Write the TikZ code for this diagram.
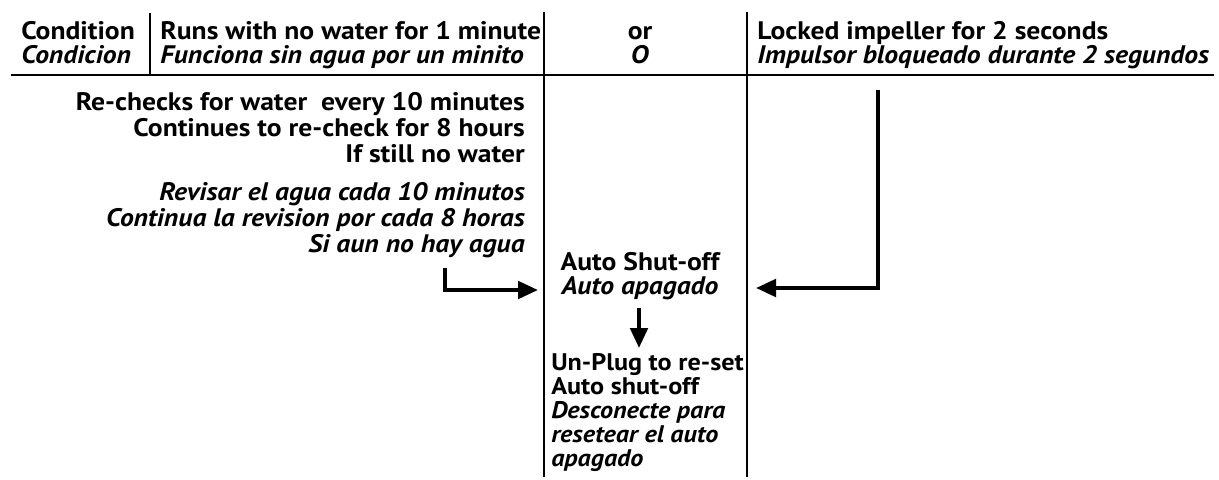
\documentclass[tikz,border=0pt]{standalone}
\usepackage{fontspec}
\setmainfont{PT Sans}[FakeStretch=1.09]
\usetikzlibrary{positioning,arrows.meta}

\begin{document}
\begin{tikzpicture}[x=0.75pt,y=-0.75pt]
	\tikzset{txt/.style={inner sep=0pt, font=\bfseries\fontsize{19}{18}\selectfont},
		flow/.style={line width=3pt, -{Triangle[length=15pt,width=13pt]}},
		rule/.style={line width=1.5pt}}
	\useasboundingbox (0,0) rectangle (1219,479);
	% table rules
	\draw[rule] (11,75) -- (1214,75);
	\draw[rule] (150,13) -- (150,75);
	\draw[rule] (544,12) -- (544,477);
	\draw[rule] (747,12) -- (747,477);
	% header
	\node[txt, anchor=base west, align=left] (cond) at (21,63) {Condition\\ \textit{Condicion}};
	\node[txt, anchor=base west, align=left] (dry) at (160,63) {Runs with no water for 1 minute\\ \textit{Funciona sin agua por un minito}};
	\node[txt, anchor=base, align=center] (or) at (640,63) {or\\ \textit{O}};
	\node[txt, anchor=base west, align=left] (lock) at (757,63) {Locked impeller for 2 seconds\\ \textit{Impulsor bloqueado durante 2 segundos}};
	% left column
	\node[txt, anchor=base east, align=right, font=\bfseries\fontsize{19}{19.5}\selectfont] (recheck) at (525,162)
		{Re-checks for water~ every 10 minutes\\ Continues to re-check for 8 hours\\ If still no water};
	\node[txt, anchor=base east, align=right, font=\bfseries\itshape\fontsize{19}{19.5}\selectfont] (revisar) at (525,252)
		{Revisar el agua cada 10 minutos\\ Continua la revision por cada 8 horas\\ Si aun no hay agua};
	% middle column
	\node[txt, anchor=base, align=center] (shut) at (640,294) {Auto Shut-off\\ \textit{Auto apagado}};
	\node[txt, anchor=base west, align=left, font=\bfseries\fontsize{18}{18}\selectfont] (unplug) at (551,466)
		{Un-Plug to re-set\\ Auto shut-off\\ \textit{Desconecte para}\\ \textit{resetear el auto}\\ \textit{apagado}};
	% arrows
	\coordinate (lbend) at (445,268);
	\coordinate (ltip) at (538,290);
	\coordinate (rtop) at (878,90);
	\coordinate (rtip) at (756,288);
	\coordinate (dtop) at (639,308);
	\coordinate (dtip) at (639,348);
	\draw[flow] (lbend) |- (ltip);
	\draw[flow] (rtop) |- (rtip);
	\draw[flow] (dtop) -- (dtip);
\end{tikzpicture}
\end{document}
